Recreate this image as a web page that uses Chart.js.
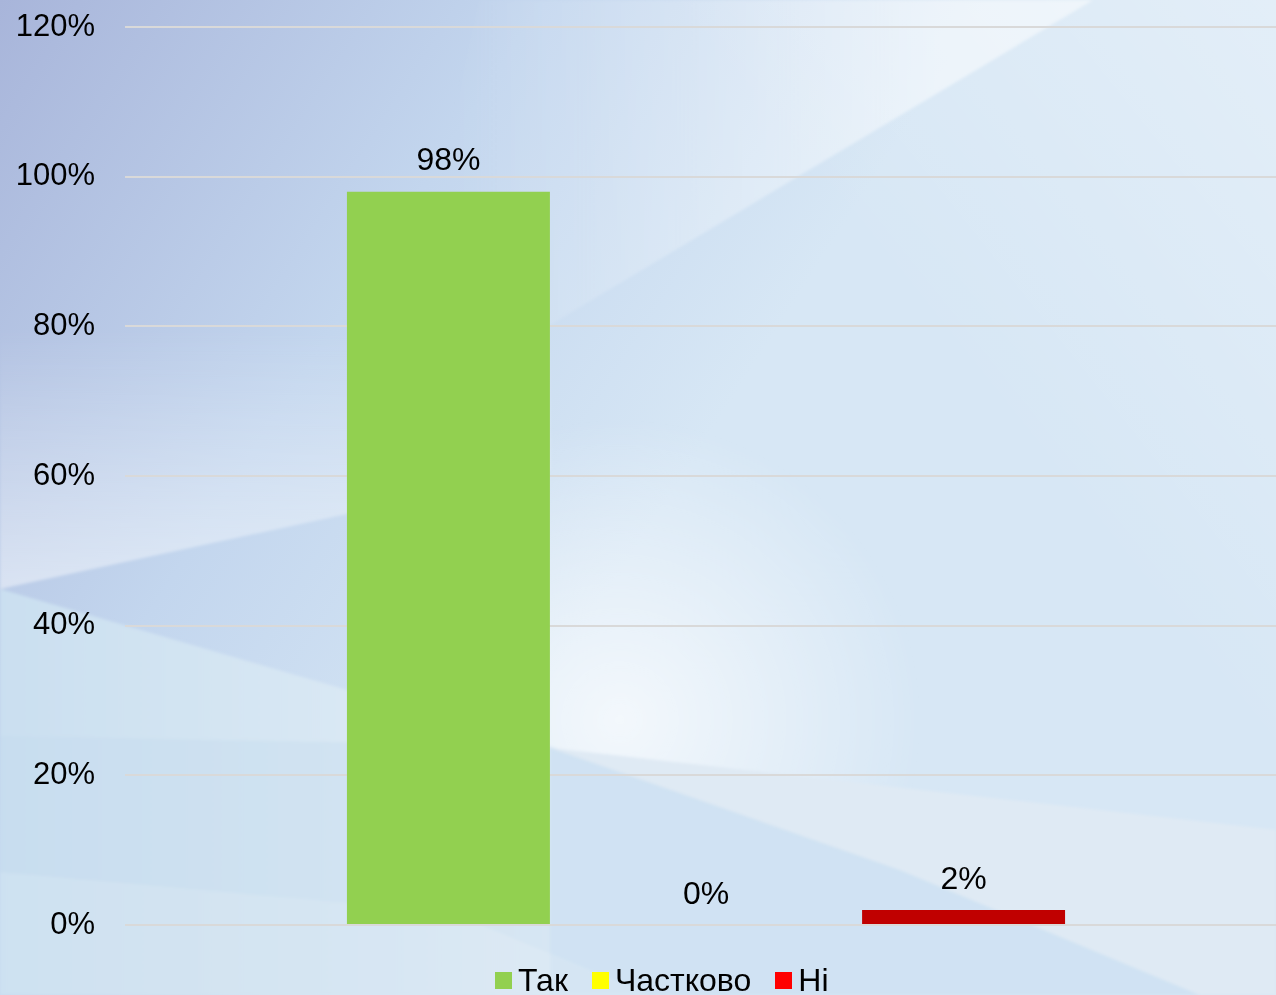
<!DOCTYPE html>
<html>
<head>
<meta charset="utf-8">
<script src="https://cdn.jsdelivr.net/npm/chart.js@4"></script>
<style>
  html, body { margin:0; padding:0; width:1276px; height:995px; overflow:hidden; }
  #bg { position:absolute; left:0; top:0; }
  #wrap { position:absolute; left:0; top:0; width:1290px; height:995px; }
  #legend { position:absolute; left:495px; top:962px; display:flex; align-items:flex-start;
            font-family:'Liberation Sans', Arial, sans-serif; font-size:32px; line-height:36px; color:#000; white-space:nowrap; }
  .item { display:flex; align-items:flex-start; margin-right:24px; }
  .sw { width:17px; height:17px; margin-top:10px; margin-right:6px; }
</style>
</head>
<body>
<svg id="bg" width="1276" height="995" xmlns="http://www.w3.org/2000/svg">
  <defs>
    <linearGradient id="g0" gradientUnits="userSpaceOnUse" x1="0" y1="0" x2="700" y2="450">
      <stop offset="0" stop-color="#a8b5da"/>
      <stop offset="0.55" stop-color="#c3d6ee"/>
      <stop offset="1" stop-color="#d7e7f5"/>
    </linearGradient>
    <linearGradient id="gTR" gradientUnits="userSpaceOnUse" x1="900" y1="300" x2="1276" y2="0">
      <stop offset="0" stop-color="#ffffff" stop-opacity="0"/>
      <stop offset="1" stop-color="#ffffff" stop-opacity="0.3"/>
    </linearGradient>
    <linearGradient id="g1" gradientUnits="userSpaceOnUse" x1="450" y1="0" x2="950" y2="0">
      <stop offset="0" stop-color="#ffffff" stop-opacity="0"/>
      <stop offset="1" stop-color="#ffffff" stop-opacity="0.5"/>
    </linearGradient>
    <linearGradient id="g2" gradientUnits="userSpaceOnUse" x1="0" y1="330" x2="0" y2="589">
      <stop offset="0" stop-color="#ffffff" stop-opacity="0"/>
      <stop offset="1" stop-color="#ffffff" stop-opacity="0.45"/>
    </linearGradient>
    <linearGradient id="g3" gradientUnits="userSpaceOnUse" x1="0" y1="0" x2="550" y2="0">
      <stop offset="0" stop-color="#cadff0"/>
      <stop offset="1" stop-color="#e2edf6"/>
    </linearGradient>
    <radialGradient id="gW" gradientUnits="userSpaceOnUse" cx="620" cy="720" r="300">
      <stop offset="0" stop-color="#ffffff" stop-opacity="0.7"/>
      <stop offset="1" stop-color="#ffffff" stop-opacity="0"/>
    </radialGradient>
    <filter id="soft"><feGaussianBlur stdDeviation="1.5"/></filter>
  </defs>
  <rect width="1276" height="995" fill="url(#g0)"/>
  <rect width="1276" height="995" fill="url(#gTR)"/>
  <g filter="url(#soft)">
    <polygon points="480,0 1093,0 550,325 380,420" fill="url(#g1)"/>
    <polygon points="0,330 550,230 550,470 0,589" fill="url(#g2)"/>
    <polygon points="347,690 550,748 1276,830 1276,300 550,300" fill="url(#gW)"/>
    <polygon points="0,589 347,690 550,748 550,995 0,995" fill="url(#g3)"/>
    <polygon points="0,736 550,746 900,870 1200,995 0,995" fill="#c3daee" fill-opacity="0.35"/>
    <polygon points="550,748 900,870 1200,995 1276,995 1276,830" fill="#e3ebf3" fill-opacity="0.7"/>
    <polygon points="0,872 450,912 650,995 0,995" fill="#ffffff" fill-opacity="0.12"/>
  </g>
</svg>
<div id="wrap"><canvas id="c"></canvas></div>
<div id="legend"></div>
<script>
const categories = [''];
const seriesNames = ['Так', 'Частково', 'Ні'];
const seriesValues = [[98], [0], [2]];
const barColors = ['#92D050', '#FFFF00', '#C00000'];
const legendColors = ['#92D050', '#FFFF00', '#FF0000'];
const yTicks = { min: 0, max: 120, step: 20 };

const FONT = "'Liberation Sans', Arial, sans-serif";

const labelPlugin = {
  id: 'valueLabels',
  afterDatasetsDraw(chart) {
    const ctx = chart.ctx;
    ctx.save();
    ctx.font = '32px ' + FONT;
    ctx.fillStyle = '#000';
    ctx.textAlign = 'center';
    ctx.textBaseline = 'middle';
    chart.data.datasets.forEach((ds, i) => {
      const meta = chart.getDatasetMeta(i);
      meta.data.forEach((el, j) => {
        ctx.fillText(ds.data[j] + '%', el.x, el.y - 30);
      });
    });
    ctx.restore();
  }
};

// HTML legend built from the series arrays
const lg = document.getElementById('legend');
seriesNames.forEach((n, i) => {
  const it = document.createElement('div');
  it.className = 'item';
  const sw = document.createElement('div');
  sw.className = 'sw';
  sw.style.background = legendColors[i];
  const tx = document.createElement('span');
  tx.textContent = n;
  it.appendChild(sw); it.appendChild(tx);
  lg.appendChild(it);
});

new Chart(document.getElementById('c'), {
  type: 'bar',
  data: {
    labels: categories,
    datasets: seriesNames.map((n, i) => ({
      label: n,
      data: seriesValues[i],
      backgroundColor: barColors[i],
      borderWidth: 0,
      barPercentage: 0.788,
      categoryPercentage: 0.665
    }))
  },
  options: {
    responsive: true,
    maintainAspectRatio: false,
    animation: false,
    layout: { padding: { left: 17, right: 3, top: 27, bottom: 70 } },
    plugins: {
      tooltip: { enabled: false },
      legend: { display: false }
    },
    scales: {
      x: {
        ticks: { display: false },
        grid: { display: false },
        border: { display: false },
        afterFit: s => { s.height = 0; }
      },
      y: {
        min: yTicks.min,
        max: yTicks.max,
        afterFit: s => { s.width = 108; s.paddingTop = 0; s.paddingBottom = 0; },
        ticks: {
          stepSize: yTicks.step,
          padding: 30,
          color: '#000',
          font: { family: FONT, size: 31 },
          callback: v => v + '%'
        },
        grid: { color: '#d9d9d9', lineWidth: 2, drawTicks: false },
        border: { display: false }
      }
    }
  },
  plugins: [labelPlugin]
});
</script>
</body>
</html>
